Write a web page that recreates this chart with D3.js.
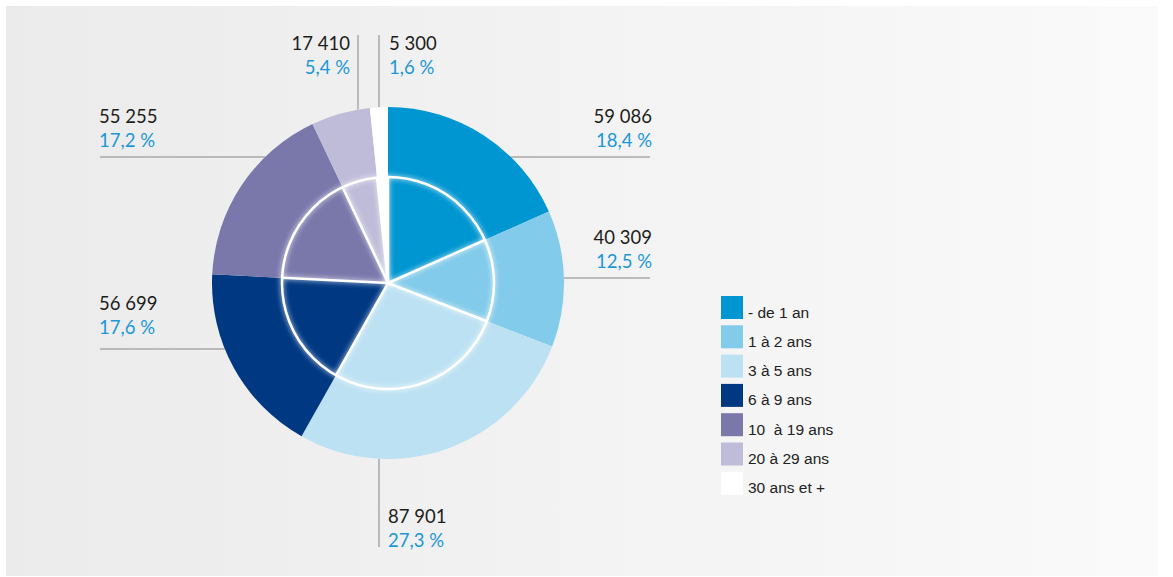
<!DOCTYPE html>
<html>
<head>
<meta charset="utf-8">
<script src="https://cdn.jsdelivr.net/npm/d3@7"></script>
<style>
  html, body { margin: 0; padding: 0; background: #ffffff; }
  svg { display: block; }
</style>
</head>
<body>
<svg id="chart" width="1173" height="577"></svg>
<script>
// ---- Data ----
const categories = ["- de 1 an", "1 à 2 ans", "3 à 5 ans", "6 à 9 ans", "10  à 19 ans", "20 à 29 ans", "30 ans et +"];
const values = [59086, 40309, 87901, 56699, 55255, 17410, 5300];
const valueLabels = ["59 086", "40 309", "87 901", "56 699", "55 255", "17 410", "5 300"];
const percentLabels = ["18,4 %", "12,5 %", "27,3 %", "17,6 %", "17,2 %", "5,4 %", "1,6 %"];
const colors = ["#0096d1", "#82cbea", "#bce1f2", "#003882", "#7a78ab", "#bfbcd9", "#ffffff"];

// ---- Layout ----
const cx = 388, cy = 283, R = 176, rInner = 106;
const svg = d3.select("#chart");
const defs = svg.append("defs");

const grad = defs.append("linearGradient").attr("id", "bg").attr("x1", "0").attr("x2", "1").attr("y1", "0").attr("y2", "0");
grad.append("stop").attr("offset", "0").attr("stop-color", "#ebebeb");
grad.append("stop").attr("offset", "1").attr("stop-color", "#fafafa");

const glow = defs.append("filter").attr("id", "glow").attr("x", "-20%").attr("y", "-20%").attr("width", "140%").attr("height", "140%");
glow.append("feGaussianBlur").attr("in", "SourceGraphic").attr("stdDeviation", 2.5);

svg.append("rect").attr("x", 6).attr("y", 6).attr("width", 1152).attr("height", 570).attr("fill", "url(#bg)");

const labelLayout = [
  { anchor: "end",   x: 652, y: 123, line: { type: "h", y: 157, from: 650, side: 1 } },
  { anchor: "end",   x: 652, y: 244, line: { type: "h", y: 278, from: 650, side: 1 } },
  { anchor: "start", x: 388, y: 523, line: { type: "v", x: 379, from: 547, side: 1 } },
  { anchor: "start", x: 99,  y: 310, line: { type: "h", y: 349, from: 100, side: -1 } },
  { anchor: "start", x: 99,  y: 123, line: { type: "h", y: 157, from: 100, side: -1 } },
  { anchor: "end",   x: 350, y: 50,  line: { type: "v", x: 358, from: 35, side: -1 } },
  { anchor: "start", x: 389, y: 50,  line: { type: "v", x: 379, from: 35, side: -1 } }
];

const gLines = svg.append("g");
labelLayout.forEach(l => {
  const c = l.line;
  if (c.type === "h") {
    const dx = Math.sqrt(R * R - (c.y - cy) * (c.y - cy));
    gLines.append("line").attr("x1", c.from).attr("x2", cx + c.side * dx)
      .attr("y1", c.y).attr("y2", c.y).attr("stroke", "#a8a8a8").attr("stroke-width", 1.5);
  } else {
    const dy = Math.sqrt(R * R - (c.x - cx) * (c.x - cx));
    gLines.append("line").attr("x1", c.x).attr("x2", c.x)
      .attr("y1", c.from).attr("y2", cy + c.side * dy).attr("stroke", "#a8a8a8").attr("stroke-width", 1.5);
  }
});

const pie = d3.pie().sort(null).value(d => d);
const arcs = pie(values);
const arcOuter = d3.arc().innerRadius(0).outerRadius(R);
const gPie = svg.append("g").attr("transform", `translate(${cx},${cy})`);
gPie.selectAll("path.slice").data(arcs).join("path")
  .attr("class", "slice")
  .attr("d", arcOuter)
  .attr("fill", (d, i) => colors[i]);

const gInner = gPie.append("g");
const drawInner = (g, sw, op) => {
  g.append("circle").attr("r", rInner).attr("fill", "none").attr("stroke", "#fff").attr("stroke-width", sw).attr("stroke-opacity", op);
  g.selectAll("line").data(arcs).join("line")
    .attr("x1", 0).attr("y1", 0)
    .attr("x2", d => rInner * Math.sin(d.startAngle))
    .attr("y2", d => -rInner * Math.cos(d.startAngle))
    .attr("stroke", "#fff").attr("stroke-width", sw).attr("stroke-opacity", op);
};
drawInner(gInner.append("g").attr("filter", "url(#glow)"), 4, 0.6);
drawInner(gInner.append("g"), 2.5, 1);

const gLab = svg.append("g").style("font-family", "Lato, 'Noto Sans', sans-serif").style("font-size", "18.5px");
labelLayout.forEach((l, i) => {
  gLab.append("text").attr("x", l.x).attr("y", l.y).attr("text-anchor", l.anchor)
    .attr("fill", "#1d1d1b").text(valueLabels[i]);
  gLab.append("text").attr("x", l.x).attr("y", l.y + 23.5).attr("text-anchor", l.anchor)
    .attr("fill", "#1b98d4").text(percentLabels[i]);
});

const gLeg = svg.append("g").attr("transform", "translate(721,296)");
const item = gLeg.selectAll("g").data(categories).join("g")
  .attr("transform", (d, i) => `translate(0,${i * 29.3})`);
item.append("rect").attr("width", 22).attr("height", 23).attr("fill", (d, i) => colors[i]);
item.append("text").attr("x", 27).attr("y", 21.5).text(d => d)
  .style("font-family", "'Liberation Sans', Arial, sans-serif").style("font-size", "15.5px").attr("fill", "#222")
  .style("white-space", "pre").attr("xml:space", "preserve");
</script>
</body>
</html>
